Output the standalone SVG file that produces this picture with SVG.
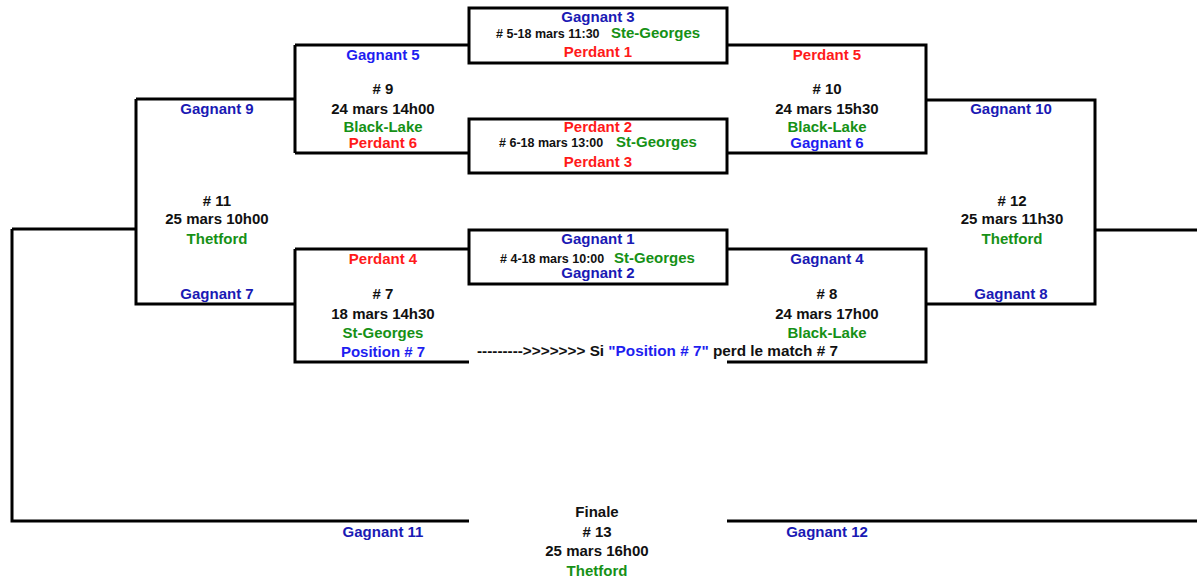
<svg xmlns="http://www.w3.org/2000/svg" width="1197" height="579" viewBox="0 0 1197 579">
<style>
text{font-family:"Liberation Sans",Arial,sans-serif;font-weight:bold;font-size:15px;text-anchor:middle}
.k{fill:#111}
.b{fill:#1a1ab4}
.bb{fill:#1e1ef0}
.r{fill:#ff1a1a}
.g{fill:#169116}
.s{font-size:12.5px;text-anchor:start}
.st{text-anchor:start}
.ln{fill:none;stroke:#000;stroke-width:3}
</style>
<rect width="1197" height="579" fill="#fff"/>
<g id="connectors">
<path class="ln" d="M295,45 H469 M295,45 V153 M295,153 H469"/>
<path class="ln" d="M727,45 H926 V153 H727"/>
<path class="ln" d="M136,99 H295 M136,99 V304 H295"/>
<path class="ln" d="M926,100 H1095 V304 H926"/>
<path class="ln" d="M295,249 H469 M295,249 V362 H469"/>
<path class="ln" d="M727,249 H926 V362 H727"/>
<path class="ln" d="M12,229 H136 M12,229 V521 H469"/>
<path class="ln" d="M1095,230 H1197 M727,521 H1197"/>
</g>
<g id="m5">
<rect x="469" y="8" width="258" height="55" class="ln"/>
<text x="598" y="22" class="b">Gagnant 3</text>
<text x="496" y="38" class="k s"># 5-18 mars 11:30</text>
<text x="611" y="38" class="g st">Ste-Georges</text>
<text x="598" y="57" class="r">Perdant 1</text>
</g>
<g id="m6">
<rect x="469" y="119" width="258" height="54" class="ln"/>
<text x="598" y="132" class="r">Perdant 2</text>
<text x="499" y="147" class="k s"># 6-18 mars 13:00</text>
<text x="616" y="147" class="g st">St-Georges</text>
<text x="598" y="167" class="r">Perdant 3</text>
</g>
<g id="m4">
<rect x="469" y="230" width="258" height="54" class="ln"/>
<text x="598" y="244" class="b">Gagnant 1</text>
<text x="500" y="263" class="k s"># 4-18 mars 10:00</text>
<text x="614" y="263" class="g st">St-Georges</text>
<text x="598" y="278" class="b">Gagnant 2</text>
</g>
<g id="m9">
<text x="383" y="60" class="bb">Gagnant 5</text>
<text x="383" y="94" class="k"># 9</text>
<text x="383" y="114" class="k">24 mars 14h00</text>
<text x="383" y="132" class="g">Black-Lake</text>
<text x="383" y="148" class="r">Perdant 6</text>
</g>
<g id="m10">
<text x="827" y="60" class="r">Perdant 5</text>
<text x="827" y="94" class="k"># 10</text>
<text x="827" y="114" class="k">24 mars 15h30</text>
<text x="827" y="132" class="g">Black-Lake</text>
<text x="827" y="148" class="bb">Gagnant 6</text>
</g>
<g id="m11">
<text x="217" y="114" class="b">Gagnant 9</text>
<text x="217" y="206" class="k"># 11</text>
<text x="217" y="224" class="k">25 mars 10h00</text>
<text x="217" y="244" class="g">Thetford</text>
<text x="217" y="299" class="b">Gagnant 7</text>
</g>
<g id="m12">
<text x="1011" y="114" class="b">Gagnant 10</text>
<text x="1012" y="206" class="k"># 12</text>
<text x="1012" y="224" class="k">25 mars 11h30</text>
<text x="1012" y="244" class="g">Thetford</text>
<text x="1011" y="299" class="b">Gagnant 8</text>
</g>
<g id="m7">
<text x="383" y="264" class="r">Perdant 4</text>
<text x="383" y="299" class="k"># 7</text>
<text x="383" y="319" class="k">18 mars 14h30</text>
<text x="383" y="338" class="g">St-Georges</text>
<text x="383" y="357" class="bb">Position # 7</text>
</g>
<g id="m8">
<text x="827" y="264" class="b">Gagnant 4</text>
<text x="827" y="299" class="k"># 8</text>
<text x="827" y="319" class="k">24 mars 17h00</text>
<text x="827" y="338" class="g">Black-Lake</text>
</g>
<g id="note">
<text x="477" y="356" class="k st" style="font-size:15.3px">---------&gt;&gt;&gt;&gt;&gt;&gt;&gt; Si <tspan class="bb">"Position # 7"</tspan> perd le match # 7</text>
</g>
<g id="m13">
<text x="597" y="517" class="k">Finale</text>
<text x="383" y="537" class="b">Gagnant 11</text>
<text x="597" y="537" class="k"># 13</text>
<text x="827" y="537" class="b">Gagnant 12</text>
<text x="597" y="556" class="k">25 mars 16h00</text>
<text x="597" y="576" class="g">Thetford</text>
</g>
</svg>
